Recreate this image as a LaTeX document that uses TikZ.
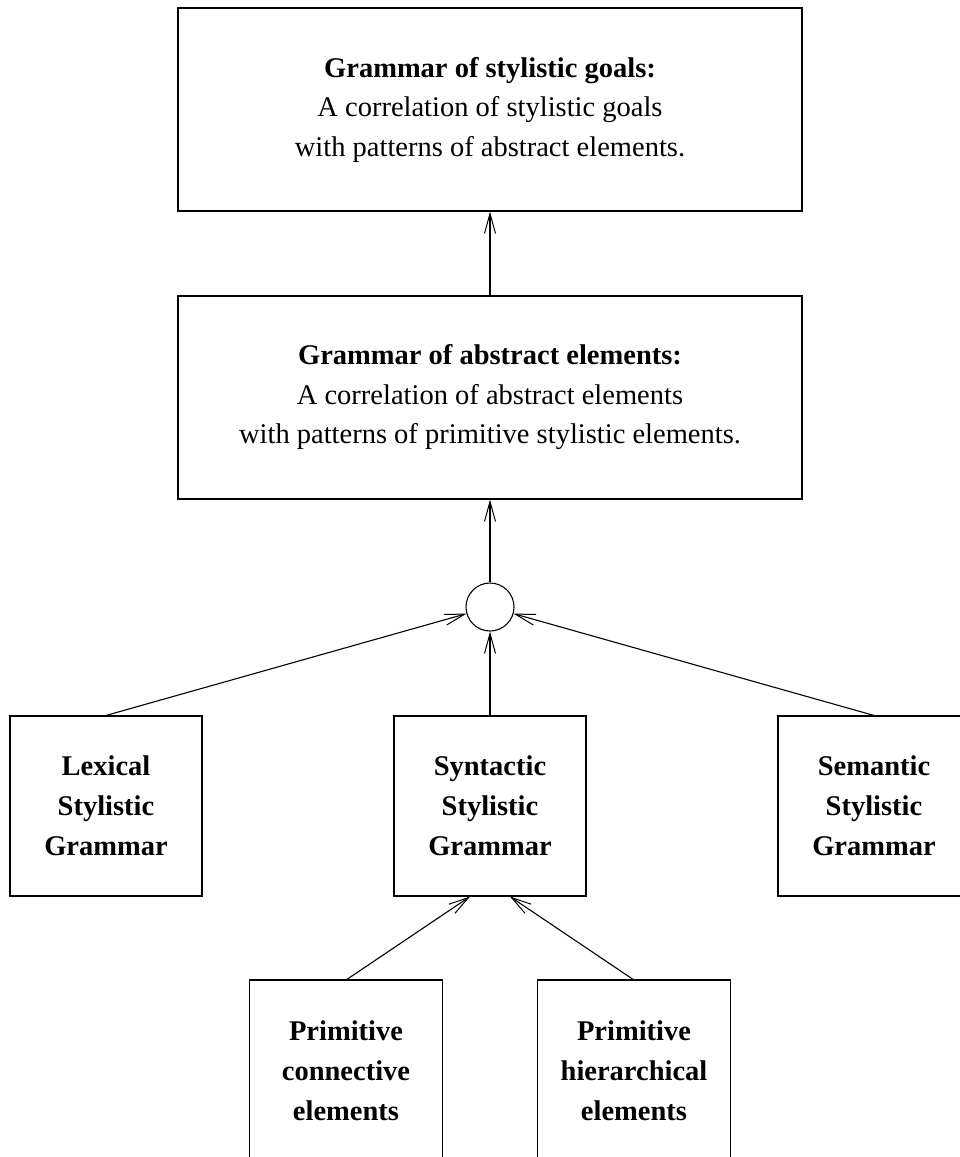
\documentclass[tikz,border=0pt]{standalone}
\usepackage{fontspec}
\setmainfont{Liberation Serif}
\usetikzlibrary{arrows.meta,calc}
\begin{document}
\begin{tikzpicture}[x=1pt,y=-1pt,line width=1.1pt,
  arr/.style={-{Straight Barb[length=20pt,width=11pt,line width=1pt]}},
  bigbox/.style={draw,minimum width=624pt,minimum height=203pt,align=center,inner sep=0pt,
     font=\fontsize{28.5}{39.5}\selectfont},
  smallbox/.style={draw,minimum width=192pt,minimum height=180pt,align=center,inner sep=0pt,
     font=\fontsize{28.5}{40}\selectfont\bfseries},
  openbox/.style={minimum width=192pt,minimum height=180pt,align=center,inner sep=0pt,
     font=\fontsize{28.5}{40}\selectfont\bfseries}]
\useasboundingbox (0,0) rectangle (959,1157);
\node[bigbox] (goals) at (490,109.5) {\textbf{Grammar of stylistic goals:}\\A correlation of stylistic goals\\with patterns of abstract elements.};
\node[bigbox] (abs) at (490,397.5) {\textbf{Grammar of abstract elements:}\\A correlation of abstract elements\\with patterns of primitive stylistic elements.};
\node[draw,circle,minimum size=48pt,inner sep=0pt] (c) at (490,607) {};
\node[smallbox] (lex) at (106,806) {Lexical\\Stylistic\\Grammar};
\node[smallbox] (syn) at (490,806) {Syntactic\\Stylistic\\Grammar};
\node[smallbox] (sem) at (874,806) {Semantic\\Stylistic\\Grammar};
\node[openbox,anchor=north] (pc) at (346,980) {Primitive\\connective\\elements};
\node[openbox,anchor=north] (ph) at (634,980) {Primitive\\hierarchical\\elements};
\draw (pc.south west) -- (pc.north west) -- (pc.north east) -- (pc.south east);
\draw (ph.south west) -- (ph.north west) -- (ph.north east) -- (ph.south east);
\coordinate (synl) at ($(syn.south)+(-20,0)$);
\coordinate (synr) at ($(syn.south)+(20,0)$);
\draw[arr] (abs.north) -- (goals.south);
\draw[arr] (c.north) -- (abs.south);
\draw[arr] (lex.north) -- (c);
\draw[arr] (syn.north) -- (c.south);
\draw[arr] (sem.north) -- (c);
\draw[arr] (pc.north) -- (synl);
\draw[arr] (ph.north) -- (synr);
\end{tikzpicture}
\end{document}
